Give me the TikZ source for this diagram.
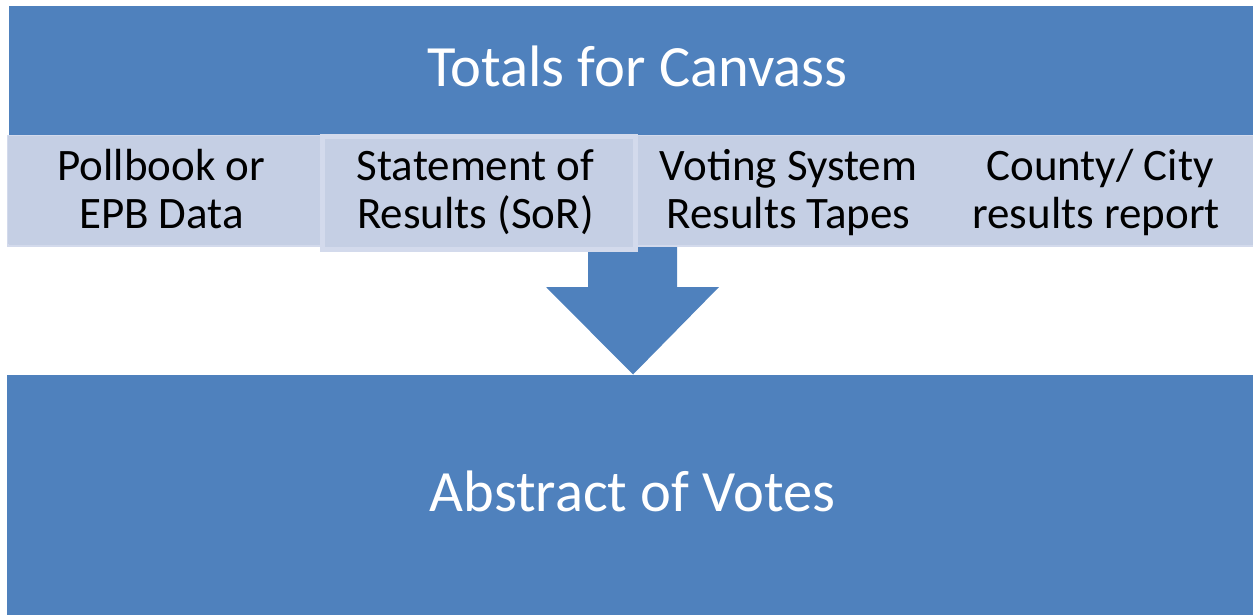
\documentclass[tikz,border=0pt]{standalone}
\usepackage{fontspec}
\setmainfont{Carlito}
\definecolor{mblue}{HTML}{4F81BD}
\definecolor{lfill}{HTML}{C5CFE4}
\definecolor{lborder}{HTML}{D3DAEC}
\begin{document}
\begin{tikzpicture}[x=1pt,y=-1pt,
  band/.style={fill=mblue, draw=none, inner sep=0pt, anchor=north west},
  rowbox/.style={fill=lfill, draw=lborder, line width=1.5pt, inner sep=0pt, anchor=north west, minimum height=110pt, minimum width=1246pt},
  cell/.style={fill=lfill, draw=none, inner sep=0pt, anchor=north west, minimum height=108pt, minimum width=311.5pt},
  hcell/.style={fill=lfill, draw=lborder, line width=5pt, inner sep=0pt, anchor=north west, minimum width=313pt, minimum height=112pt},
  titletext/.style={text=white, font=\fontsize{58.5}{62}\selectfont, inner sep=0pt, anchor=base},
  celltext/.style={text=black, font=\fontsize{45}{48}\selectfont, inner sep=0pt, anchor=base},
  bigarrow/.style={fill=mblue, draw=none}
]
\useasboundingbox (0,0) rectangle (1253,615);
% top band
\node[band, minimum width=1244pt, minimum height=129pt] (top) at (9,6) {};
\node[titletext] (ttl) at (637.5,87) {Totals for Canvass};
% bottom band
\node[band, minimum width=1246pt, minimum height=240pt] (bot) at (7,375) {};
\node[titletext] (abs) at (632.5,511) {Abstract of Votes};
% arrow
\coordinate (a1) at (588,240);
\coordinate (a2) at (677,240);
\coordinate (a3) at (677,287);
\coordinate (a4) at (719,287);
\coordinate (tip) at (633,374.5);
\coordinate (a6) at (546,287);
\coordinate (a7) at (588,287);
\fill[bigarrow] (a1) -- (a2) -- (a3) -- (a4) -- (tip) -- (a6) -- (a7) -- cycle;
% row of cells
\node[rowbox] (row) at (7,135) {};
\node[cell] (c1) at (8,136) {};
\node[cell] (c3) at (630,136) {};
\node[cell] (c4) at (941.5,136) {};
\node[hcell] (c2) at (319.5,134.5) {};
% cell texts
\node[celltext] (t1a) at (161.5,180) {Pollbook or};
\node[celltext] (t1b) at (161.5,228) {EPB Data};
\node[celltext] (t2a) at (475.5,180) {Statement of};
\node[celltext] (t2b) at (475.5,228) {Results (SoR)};
\node[celltext] (t3a) at (788.5,180) {Voting System};
\node[celltext] (t3b) at (788.5,228) {Results Tapes};
\node[celltext] (t4a) at (1100,180) {County/ City};
\node[celltext] (t4b) at (1096,228) {results report};
\end{tikzpicture}
\end{document}
